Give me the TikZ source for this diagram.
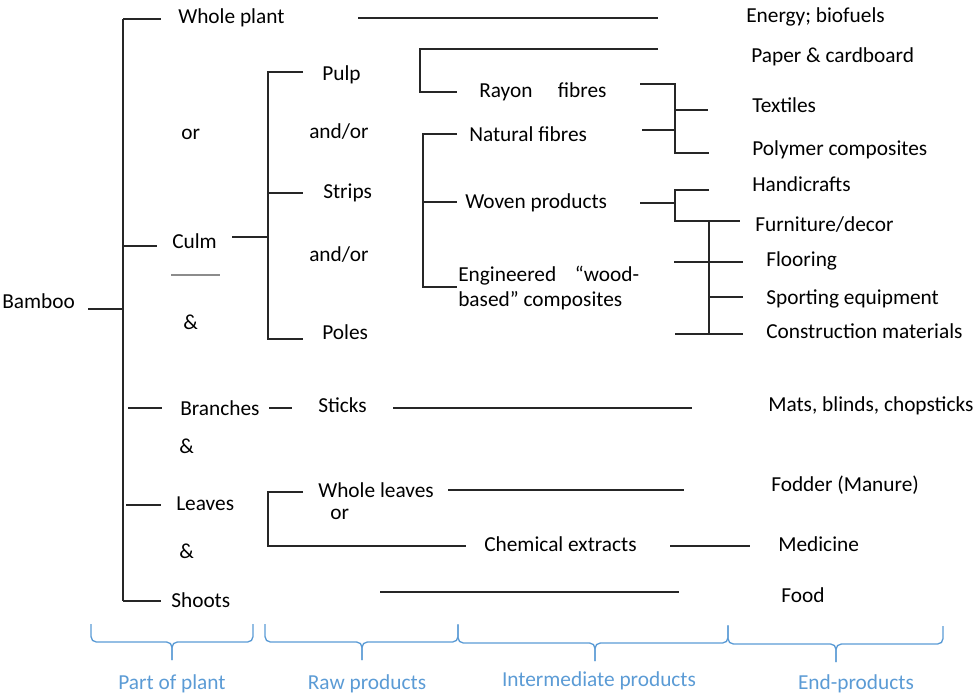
\documentclass[tikz,border=0pt]{standalone}
\usepackage{fontspec}
\setmainfont{Carlito}
\definecolor{partblue}{HTML}{5B9BD5}
\tikzset{
	txt/.style={anchor=west, inner sep=0pt, yshift=-2.6pt, text height=0.72em, text depth=0.22em, font=\fontsize{16}{19}\selectfont},
	parttxt/.style={anchor=center, inner sep=0pt, yshift=-2pt, text=partblue, font=\fontsize{16}{19}\selectfont},
	ln/.style={line width=0.9pt, black!85},
	partbrace/.style={line width=1pt, partblue, rounded corners=4pt}
}
% under brace: x left, x middle, x right, y top
\newcommand{\partbrace}[4]{
	\draw[partbrace] (#1,#4) -- (#1,#4+18) -- (#2,#4+18) -- (#2,#4+36);
	\draw[partbrace] (#3,#4) -- (#3,#4+18) -- (#2,#4+18) -- (#2,#4+36);
}
\begin{document}
\begin{tikzpicture}[x=0.75pt, y=-0.75pt]
		\useasboundingbox (0,0) rectangle (974,696);
		
		%Part of plant
		\node[txt] (bamboo) at (2,302) {Bamboo};
		\node[txt] (wplant) at (178,17) {Whole plant};
		\node[txt] (or1) at (181,133) {or};
		\node[txt] (culm) at (172,242) {Culm};
		\node[txt] (amp1) at (183,323) {\&};
		\node[txt] (branches) at (180,409) {Branches};
		\node[txt] (amp2) at (179,447) {\&};
		\node[txt] (leaves) at (176,504) {Leaves};
		\node[txt] (amp3) at (179,552) {\&};
		\node[txt] (shoots) at (171,601) {Shoots};
		
		\draw[ln] (88,309) -- (123,309);
		\draw[ln] (123,19) -- (123,601);
		\draw[ln] (123,19) -- (161,19);
		\draw[ln] (123,246) -- (157,246);
		\draw[ln] (128,408) -- (162,408);
		\draw[ln] (126,505) -- (161,505);
		\draw[ln] (123,601) -- (161,601);
		\draw[line width=0.9pt, black!45] (171,275) -- (220,275);
		
		%Raw products
		\node[txt] (pulp) at (322,74) {Pulp};
		\node[txt] (andor1) at (309,132) {and/or};
		\node[txt] (strips) at (323,192) {Strips};
		\node[txt] (andor2) at (309,255) {and/or};
		\node[txt] (poles) at (322,333) {Poles};
		\node[txt] (sticks) at (318,406) {Sticks};
		\node[txt] (wleaves) at (318,491) {Whole leaves};
		\node[txt] (or2) at (330,513) {or};
		
		\draw[ln] (232,237) -- (268,237);
		\draw[ln] (303,72) -- (268,72) -- (268,339) -- (303,339);
		\draw[ln] (268,193) -- (303,193);
		\draw[ln] (269,408) -- (292,408);
		\draw[ln] (303,492) -- (268,492) -- (268,546) -- (466,546);
		
		%Intermediate products
		\node[txt] (rayon) at (479,91) {Rayon\hspace{19pt}fibres};
		\node[txt] (natural) at (469,135) {Natural fibres};
		\node[txt] (woven) at (465,202) {Woven products};
		\node[txt] (eng1) at (458,275) {Engineered\hspace{14pt}“wood-};
		\node[txt] (eng2) at (458,300) {based” composites};
		\node[txt] (chem) at (484,545) {Chemical extracts};
		
		\draw[ln] (358,18) -- (658,18);
		\draw[ln] (658,49) -- (420,49) -- (420,92) -- (457,92);
		\draw[ln] (457,134) -- (423,134) -- (423,287) -- (457,287);
		\draw[ln] (423,202) -- (457,202);
		\draw[ln] (393,408) -- (692,408);
		\draw[ln] (448,490) -- (684,490);
		\draw[ln] (380,592) -- (679,592);
		
		%End-products
		\node[txt] (energy) at (746,16) {Energy; biofuels};
		\node[txt] (paper) at (751,56) {Paper \& cardboard};
		\node[txt] (textiles) at (752,106) {Textiles};
		\node[txt] (polymer) at (752,149) {Polymer composites};
		\node[txt] (handi) at (752,185) {Handicrafts};
		\node[txt] (furn) at (755,225) {Furniture/decor};
		\node[txt] (floor) at (766,260) {Flooring};
		\node[txt] (sport) at (766,298) {Sporting equipment};
		\node[txt] (constr) at (766,332) {Construction materials};
		\node[txt] (mats) at (768,405) {Mats, blinds, chopsticks};
		\node[txt] (fodder) at (771,485) {Fodder (Manure)};
		\node[txt] (medicine) at (778,545) {Medicine};
		\node[txt] (food) at (781,596) {Food};
		
		\draw[ln] (640,84) -- (675,84) -- (675,153) -- (709,153);
		\draw[ln] (675,110) -- (708,110);
		\draw[ln] (642,130) -- (675,130);
		\draw[ln] (640,203) -- (675,203);
		\draw[ln] (709,190) -- (675,190) -- (675,221) -- (740,221);
		\draw[ln] (709,221) -- (709,333);
		\draw[ln] (674,262) -- (743,262);
		\draw[ln] (709,297) -- (743,297);
		\draw[ln] (675,334) -- (743,334);
		\draw[ln] (670,546) -- (750,546);
		
		%Braces
		\partbrace{91}{172}{253}{624}
		\partbrace{265}{362}{458}{624}
		\partbrace{458}{595}{728}{625}
		\partbrace{728}{836}{943}{626}
		\node[parttxt] (partplant) at (172,681) {Part of plant};
		\node[parttxt] (partraw) at (367,681) {Raw products};
		\node[parttxt] (partinter) at (599,678) {Intermediate products};
		\node[parttxt] (partend) at (856,681) {End-products};
		
	\end{tikzpicture}
\end{document}
